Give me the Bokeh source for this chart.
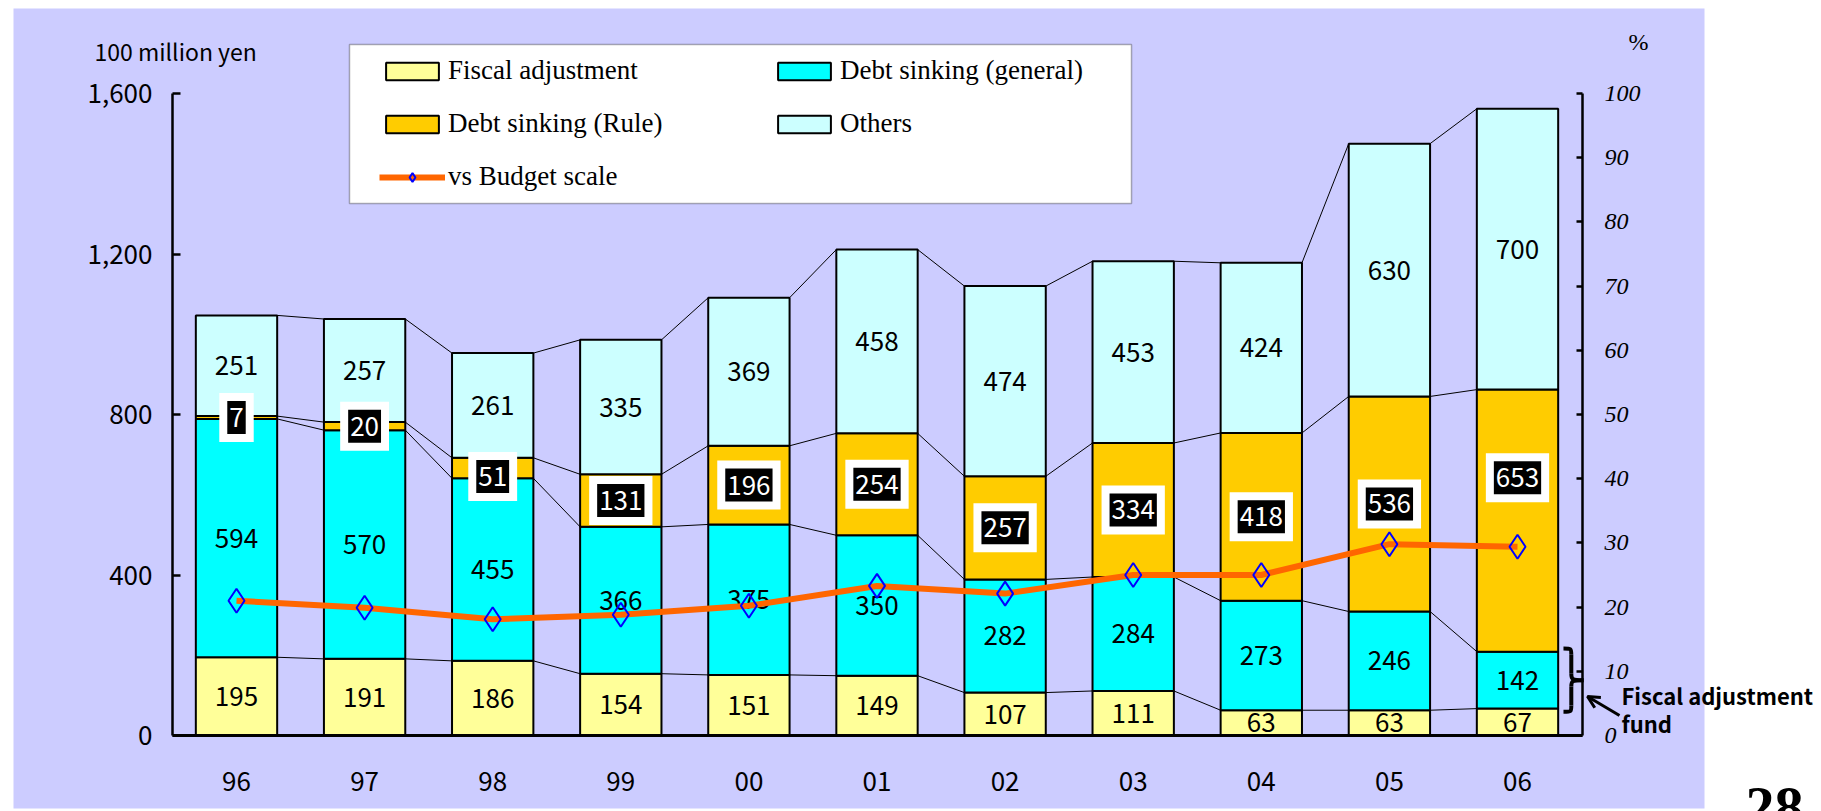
from bokeh.plotting import figure
from bokeh.models import (Range1d, LinearAxis, FixedTicker, NumeralTickFormatter, BoxAnnotation,
                          Legend, LegendItem, Label, Arrow, OpenHead, ColumnDataSource)
from bokeh.core.properties import value
from bokeh.embed import file_html
from bokeh.resources import INLINE

# ---------------- data ----------------
years = ["96", "97", "98", "99", "00", "01", "02", "03", "04", "05", "06"]
fiscal_adj = [195, 191, 186, 154, 151, 149, 107, 111, 63, 63, 67]
debt_general = [594, 570, 455, 366, 375, 350, 282, 284, 273, 246, 142]
debt_rule = [7, 20, 51, 131, 196, 254, 257, 334, 418, 536, 653]
others = [251, 257, 261, 335, 369, 458, 474, 453, 424, 630, 700]
budget_pct = [21.0, 19.9, 18.1, 18.8, 20.2, 23.3, 22.1, 25.0, 25.0, 29.8, 29.4]
left_ticks = [0, 400, 800, 1200, 1600]
right_ticks = [0, 10, 20, 30, 40, 50, 60, 70, 80, 90, 100]

# ---------------- styles ----------------
LAV = "#CCCCFF"
C_FISCAL, C_GEN, C_RULE, C_OTH = "#FFFF99", "#00FFFF", "#FFCC00", "#CCFFFF"
GOTH = "Noto Sans CJK JP"
MINCHO = "Liberation Serif"
BAR_W = 0.635
W, H = 1821, 811

n = len(years)
xs = list(range(n))
c1 = fiscal_adj[:]
c2 = [a + b for a, b in zip(c1, debt_general)]
c3 = [a + b for a, b in zip(c2, debt_rule)]
c4 = [a + b for a, b in zip(c3, others)]

src = ColumnDataSource(dict(x=xs, fiscal=fiscal_adj, general=debt_general, rule=debt_rule, others=others))

# the frame spans the whole canvas; axes are pinned with fixed_location
X0, X1 = -0.5, 10.507          # plot-area edges in category units
px_x = 128.1                   # pixels per category
px_y = 642 / 1600              # pixels per 100 million yen
px_p = 642 / 100               # pixels per percent
x_left_px, y_base_px = 236, 735
p = figure(width=W, height=H,
           x_range=Range1d(-x_left_px / px_x, (W - x_left_px) / px_x),
           y_range=Range1d(-(H - y_base_px) / px_y, y_base_px / px_y),
           output_backend="svg", toolbar_location=None, min_border=0,
           background_fill_color="white", border_fill_color="white", outline_line_color=None)
p.grid.visible = False
p.extra_y_ranges = {"pct": Range1d(-(H - y_base_px) / px_p, y_base_px / px_p)}

# lavender page panel
p.add_layout(BoxAnnotation(left=13, right=1704, top=8, bottom=808,
                           left_units="canvas", right_units="canvas", top_units="canvas", bottom_units="canvas",
                           fill_color=LAV, fill_alpha=1, line_alpha=0, level="underlay"))

# bars
bars = p.vbar_stack(["fiscal", "general", "rule", "others"], x="x", width=BAR_W, source=src,
                    fill_color=[C_FISCAL, C_GEN, C_RULE, C_OTH], line_color="black", line_width=2)

# series connector lines
sx0, sy0, sx1, sy1 = [], [], [], []
for cum in (c1, c2, c3, c4):
    for i in range(n - 1):
        sx0.append(xs[i] + BAR_W / 2); sy0.append(cum[i])
        sx1.append(xs[i + 1] - BAR_W / 2); sy1.append(cum[i + 1])
p.segment(sx0, sy0, sx1, sy1, line_color="black", line_width=1)

# value labels
lab_font = dict(text_font=value(GOTH), text_font_size=value("26px"), text_align="center", text_baseline="middle")
p.text(xs, [v / 2 for v in fiscal_adj], text=[str(v) for v in fiscal_adj], text_color="black", **lab_font)
p.text(xs, [a + v / 2 for a, v in zip(c1, debt_general)], text=[str(v) for v in debt_general], text_color="black", **lab_font)
p.text(xs, [a + v / 2 for a, v in zip(c3, others)], text=[str(v) for v in others], text_color="black", **lab_font)

rule_shift = {2: -21, 10: 107}
rule_y = [a + v / 2 + rule_shift.get(i, 0) for i, (a, v) in enumerate(zip(c2, debt_rule))]
p.text(xs, rule_y, text=[str(v) for v in debt_rule], text_color="white",
       background_fill_color="black", border_line_color="white", border_line_width=8,
       border_line_join="miter", padding=(6, 11),
       text_font=value(GOTH), text_font_size=value("26px"), text_align="center", text_baseline="middle")

# percentage line
ln = p.line(xs, budget_pct, y_range_name="pct", line_color="#FF6600", line_width=6)
sc = p.scatter(xs, budget_pct, y_range_name="pct", marker="diamond", size=24,
               fill_alpha=0, line_color="#0000FF", line_width=2)

# axes
ya = p.yaxis[0]
ya.fixed_location = X0
ya.bounds = (left_ticks[0], left_ticks[-1])
ya.ticker = FixedTicker(ticks=left_ticks)
ya.formatter = NumeralTickFormatter(format="0,0")
ya.major_tick_in = 8
ya.major_tick_out = 0
ya.minor_tick_line_color = None
ya.axis_line_width = 2.5
ya.major_tick_line_width = 2.5
ya.major_label_text_font = GOTH
ya.major_label_text_font_size = "26px"
ya.major_label_text_color = "black"
ya.major_label_standoff = 20

xa = p.xaxis[0]
xa.fixed_location = 0
xa.bounds = (X0, X1)
xa.ticker = FixedTicker(ticks=xs)
xa.major_label_overrides = {i: y for i, y in zip(xs, years)}
xa.major_tick_line_color = None
xa.minor_tick_line_color = None
xa.axis_line_width = 3
xa.major_label_text_font = GOTH
xa.major_label_text_font_size = "26px"
xa.major_label_text_color = "black"
xa.major_label_standoff = 30

ra = LinearAxis(y_range_name="pct", ticker=FixedTicker(ticks=right_ticks), fixed_location=X1,
                bounds=(right_ticks[0], right_ticks[-1]))
ra.major_tick_in = 6
ra.major_tick_out = 0
ra.minor_tick_line_color = None
ra.axis_line_width = 2.5
ra.major_tick_line_width = 2.5
ra.major_label_text_font = MINCHO
ra.major_label_text_font_style = "italic"
ra.major_label_text_font_size = "24px"
ra.major_label_text_color = "black"
ra.major_label_standoff = 22
p.add_layout(ra, "right")

# brace around the 2006 fund
bl, bm, bt = 10.359, 10.42, 10.515
top, bot = c2[-1] + 8, c1[-1] - 8
mid = (top + bot) / 2
d = 16
p.bezier(x0=[bl, bm, bt, bm], y0=[top, mid + d, mid, bot + d],
         x1=[bm, bt, bm, bl], y1=[top - d, mid, mid - d, bot],
         cx0=[bm, bm, bm, bm], cy0=[top, mid + 3, mid, bot],
         cx1=[bm, bm, bm, bm], cy1=[top, mid, mid - 3, bot], line_color="black", line_width=4)
p.segment(x0=[bm, bm], y0=[top - d, mid - d], x1=[bm, bm], y1=[mid + d, bot + d], line_color="black", line_width=4)

# legend frame + legend
p.add_layout(BoxAnnotation(left=349, right=1131, top=44, bottom=203,
                           left_units="canvas", right_units="canvas", top_units="canvas", bottom_units="canvas",
                           fill_color="white", fill_alpha=1, line_color="black", line_width=1.5))
items = [
    LegendItem(label="Fiscal adjustment", renderers=[bars[0]]),
    LegendItem(label="Debt sinking (Rule)", renderers=[bars[2]]),
    LegendItem(label="vs Budget scale", renderers=[ln, sc]),
    LegendItem(label="Debt sinking (general)", renderers=[bars[1]]),
    LegendItem(label="Others", renderers=[bars[3]]),
]
leg = Legend(items=items, location=(379, H - 192), orientation="vertical", nrows=3,
             glyph_width=66, glyph_height=22, label_standoff=3, label_width=301, label_height=30,
             spacing=22, padding=0, margin=0, border_line_alpha=0, background_fill_alpha=0,
             label_text_font=MINCHO, label_text_font_size="27px", label_text_color="black")
p.add_layout(leg)

# texts (screen units: from the canvas bottom-left, as the frame fills the canvas)
p.add_layout(Label(x=94, y=H - 50, x_units="screen", y_units="screen", text="100 million yen",
                   text_font=GOTH, text_font_size="23px", text_baseline="middle", text_color="black"))
p.add_layout(Label(x=1628, y=H - 41, x_units="screen", y_units="screen", text="%",
                   text_font=MINCHO, text_font_size="24px", text_baseline="middle", text_color="black"))
p.add_layout(Label(x=1621, y=H - 710, x_units="screen", y_units="screen", text="Fiscal adjustment",
                   text_font=GOTH, text_font_size="22px", text_font_style="bold", text_color="black"))
p.add_layout(Label(x=1621, y=H - 738, x_units="screen", y_units="screen", text="fund",
                   text_font=GOTH, text_font_size="22px", text_font_style="bold", text_color="black"))
p.add_layout(Arrow(x_start=1619, y_start=H - 715, x_end=1587, y_end=H - 696, start_units="screen", end_units="screen",
                   line_width=3, end=OpenHead(size=12, line_width=3)))
p.add_layout(Label(x=1745, y=H - 825, x_units="screen", y_units="screen", text="28",
                   text_font="Liberation Serif", text_font_size="58px", text_font_style="bold", text_color="black"))

open("out.html", "w").write(file_html(p, INLINE))
